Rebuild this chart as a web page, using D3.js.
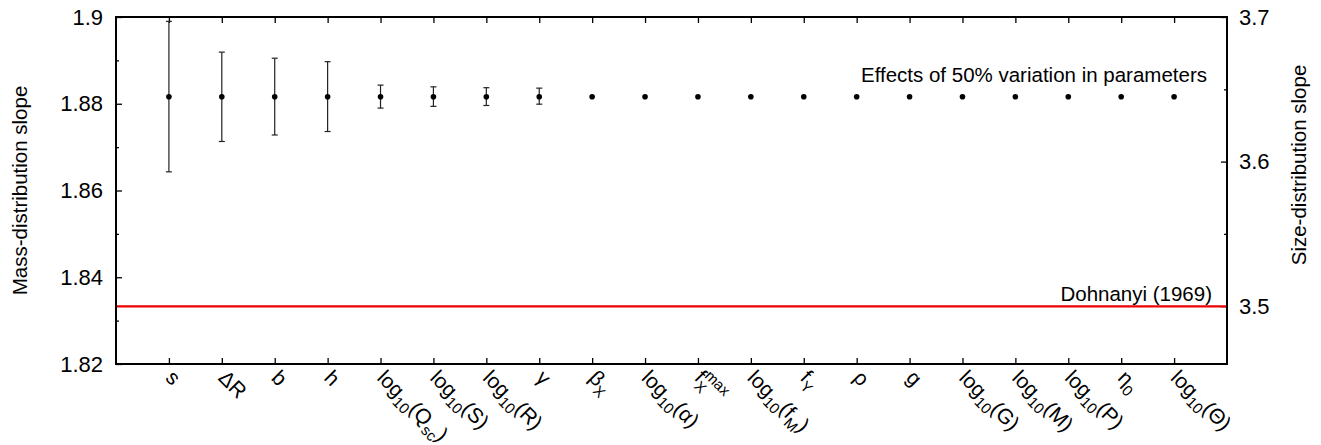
<!DOCTYPE html>
<html>
<head>
<meta charset="utf-8">
<script src="https://cdn.jsdelivr.net/npm/d3@7"></script>
<style>
  body { margin: 0; background: #fff; }
  svg { display: block; font-family: "Liberation Sans", Arial, Helvetica, sans-serif; }
</style>
</head>
<body>
<div id="chart"></div>
<script>
// parameter names, gnuplot-style markup: _{sub} and ^{sup}
const categories = ["s", "ΔR", "b", "h", "log_{10}(Q_{sc})", "log_{10}(S)", "log_{10}(R)", "γ",
  "β_{X}", "log_{10}(α)", "f_{X}^{max}", "log_{10}(f_{M})", "f_{Y}", "ρ", "g",
  "log_{10}(G)", "log_{10}(M)", "log_{10}(P)", "η_{0}", "log_{10}(Θ)"];

// mass-distribution slope for each parameter
const slope = [1.8816, 1.8816, 1.8816, 1.8816, 1.8816, 1.8816, 1.8816, 1.8816, 1.8816, 1.8816,
  1.8816, 1.8816, 1.8816, 1.8816, 1.8816, 1.8816, 1.8816, 1.8816, 1.8816, 1.8816];

// range of slope under a 50% change of the parameter (null = no visible spread)
const errLow = [1.8643, 1.8713, 1.8728, 1.8736, 1.8790, 1.8794, 1.8796, 1.8799,
  null, null, null, null, null, null, null, null, null, null, null, null];
const errHigh = [1.8990, 1.8919, 1.8905, 1.8897, 1.8843, 1.8839, 1.8837, 1.8836,
  null, null, null, null, null, null, null, null, null, null, null, null];

const leftTicks = [1.82, 1.84, 1.86, 1.88, 1.9];
const leftMinor = [1.83, 1.85, 1.87, 1.89];
const rightTicks = [3.5, 3.6, 3.7];
const rightMinor = [3.55, 3.65];

const dohnanyi = 1.8333; // 11/6

const width = 1321;
const height = 445;
const margin = { top: 17, right: 94, bottom: 81, left: 116 };
const fontSize = 20.5;
const tickFont = 22;
const xLabelFont = 21;

const svg = d3.select("#chart")
  .append("svg")
  .attr("width", width)
  .attr("height", height);

const x = d3.scaleLinear()
  .domain([0, categories.length + 1])
  .range([margin.left, width - margin.right]);

const y = d3.scaleLinear()
  .domain([1.82, 1.9])
  .range([height - margin.bottom, margin.top]);

// size-distribution slope q = 3*alpha - 2
const y2 = d3.scaleLinear()
  .domain([3 * 1.82 - 2, 3 * 1.9 - 2])
  .range([height - margin.bottom, margin.top]);

const idx = d3.range(1, categories.length + 1);

// axes, ticks pointing inward like gnuplot
const styleAxis = g => {
  g.select(".domain").remove();
  g.selectAll(".tick line").attr("stroke", "#000").attr("stroke-width", 1.3);
  g.selectAll(".tick text").attr("font-size", tickFont).attr("fill", "#000");
};

svg.append("g")
  .attr("transform", `translate(${margin.left},0)`)
  .call(d3.axisLeft(y).tickValues(leftTicks).tickSize(-6).tickPadding(13)
    .tickFormat(d3.format("")))
  .call(styleAxis);

svg.append("g")
  .attr("transform", `translate(${margin.left},0)`)
  .call(d3.axisLeft(y).tickValues(leftMinor).tickSize(-3).tickFormat(""))
  .call(styleAxis);

svg.append("g")
  .attr("transform", `translate(${width - margin.right},0)`)
  .call(d3.axisRight(y2).tickValues(rightTicks).tickSize(-6).tickPadding(12)
    .tickFormat(d3.format("")))
  .call(styleAxis);

svg.append("g")
  .attr("transform", `translate(${width - margin.right},0)`)
  .call(d3.axisRight(y2).tickValues(rightMinor).tickSize(-3).tickFormat(""))
  .call(styleAxis);

svg.append("g")
  .attr("transform", `translate(0,${margin.top})`)
  .call(d3.axisTop(x).tickValues(idx).tickSize(-6).tickFormat(""))
  .call(styleAxis);

const xAxis = svg.append("g")
  .attr("transform", `translate(0,${height - margin.bottom})`)
  .call(d3.axisBottom(x).tickValues(idx).tickSize(-6).tickFormat(""))
  .call(styleAxis);

// rotated tick labels with sub/superscripts
const parseLabel = s => {
  const parts = [];
  const re = /(_|\^)\{([^}]*)\}|([^_^]+)/g;
  let m;
  while ((m = re.exec(s)) !== null) {
    if (m[3]) parts.push({ t: m[3], k: "n" });
    else parts.push({ t: m[2], k: m[1] === "_" ? "sub" : "sup" });
  }
  return parts;
};

xAxis.selectAll(".tick").each(function (d) {
  const label = d3.select(this).append("text")
    .attr("transform", "translate(-5,15) rotate(45)")
    .attr("font-size", xLabelFont)
    .attr("fill", "#000")
    .attr("text-anchor", "start");
  let shift = 0;
  let prev = null;
  parseLabel(categories[d - 1]).forEach(p => {
    const target = p.k === "sub" ? 6 : p.k === "sup" ? -9 : 0;
    const ts = label.append("tspan")
      .attr("font-size", p.k === "n" ? xLabelFont : 15)
      .attr("dy", target - shift)
      .text(p.t);
    if (p.k === "sup" && prev && prev.k === "sub") {
      ts.attr("dx", -prev.node.getComputedTextLength());
    }
    shift = target;
    prev = { k: p.k, node: ts.node() };
  });
});

// Dohnanyi reference line
svg.append("line")
  .attr("x1", x(0))
  .attr("x2", x(categories.length + 1))
  .attr("y1", y(dohnanyi))
  .attr("y2", y(dohnanyi))
  .attr("stroke", "#ee0000")
  .attr("stroke-width", 2.2);

// error bars
const bars = svg.append("g")
  .selectAll("g")
  .data(idx.filter(i => errLow[i - 1] !== null))
  .join("g")
    .attr("stroke", "#222")
    .attr("stroke-width", 1.2);

bars.append("line")
  .attr("x1", d => x(d)).attr("x2", d => x(d))
  .attr("y1", d => y(errLow[d - 1])).attr("y2", d => y(errHigh[d - 1]));
bars.append("line")
  .attr("x1", d => x(d) - 3).attr("x2", d => x(d) + 3)
  .attr("y1", d => y(errLow[d - 1])).attr("y2", d => y(errLow[d - 1]));
bars.append("line")
  .attr("x1", d => x(d) - 3).attr("x2", d => x(d) + 3)
  .attr("y1", d => y(errHigh[d - 1])).attr("y2", d => y(errHigh[d - 1]));

svg.append("g")
  .selectAll("circle")
  .data(idx)
  .join("circle")
    .attr("cx", d => x(d))
    .attr("cy", d => y(slope[d - 1]))
    .attr("r", 2.8)
    .attr("fill", "#000");

// frame
svg.append("rect")
  .attr("x", margin.left)
  .attr("y", margin.top)
  .attr("width", width - margin.left - margin.right)
  .attr("height", height - margin.top - margin.bottom)
  .attr("fill", "none")
  .attr("stroke", "#000")
  .attr("stroke-width", 2);

// annotations
svg.append("text")
  .attr("x", x(categories.length + 1) - 20)
  .attr("y", y(1.8816) - 15)
  .attr("text-anchor", "end")
  .attr("font-size", fontSize)
  .text("Effects of 50% variation in parameters");

svg.append("text")
  .attr("x", x(categories.length + 1) - 15)
  .attr("y", y(dohnanyi) - 5)
  .attr("text-anchor", "end")
  .attr("font-size", fontSize)
  .text("Dohnanyi (1969)");

// axis titles
svg.append("text")
  .attr("transform", `translate(27,${(margin.top + height - margin.bottom) / 2}) rotate(-90)`)
  .attr("text-anchor", "middle")
  .attr("font-size", fontSize)
  .text("Mass-distribution slope");

svg.append("text")
  .attr("transform", `translate(1306,165) rotate(-90)`)
  .attr("text-anchor", "middle")
  .attr("font-size", fontSize)
  .text("Size-distribution slope");
</script>
</body>
</html>
